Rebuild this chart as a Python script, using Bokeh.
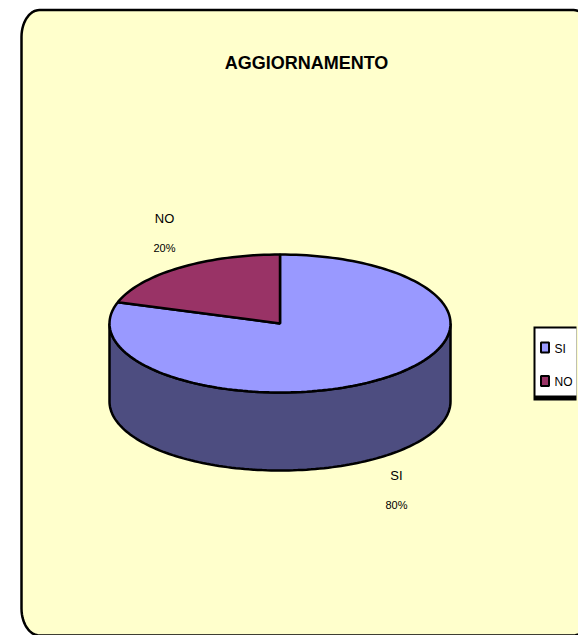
import math
from bokeh.plotting import figure
from bokeh.embed import file_html
from bokeh.resources import INLINE
from bokeh.core.properties import value

title_text = "AGGIORNAMENTO"
categories = ["SI", "NO"]
shares = [80, 20]
colors = ["#9999FF", "#993366"]
side_color = "#4D4D80"
bg = "#FFFFCC"

W, H = 578, 635
p = figure(width=W, height=H, x_range=(0, W), y_range=(H, 0),
           output_backend="svg", toolbar_location=None, min_border=0,
           outline_line_color=None, background_fill_color="white",
           border_fill_color="white")
p.axis.visible = False
p.grid.visible = False

# Rounded panel (elliptical corners, right and bottom edges run off the page)
def arc(cx, cy, a0, a1, rx=18, ry=27, n=14):
    return [(cx + rx * math.cos(math.radians(a0 + (a1 - a0) * i / n)),
             cy + ry * math.sin(math.radians(a0 + (a1 - a0) * i / n))) for i in range(n + 1)]
L, T, R, B = 21, 9.5, 591, 635
pts = (arc(L + 18, T + 27, 180, 270) + arc(R - 18, T + 27, 270, 360)
       + arc(R - 18, B - 27, 0, 90) + arc(L + 18, B - 27, 90, 180))
p.patch([a for a, _ in pts], [b for _, b in pts], fill_color=bg, line_color="black", line_width=2.5)

# Pie geometry
cx, cy, rx, ry, depth = 279.5, 323, 170.5, 69, 78
def ell(t, dy=0):
    return (cx + rx * math.sin(t), cy + dy - ry * math.cos(t))

# Side wall (front half)
ts = [math.pi / 2 + math.pi * i / 120 for i in range(121)]
front = [ell(t) for t in ts] + [ell(t, depth) for t in reversed(ts)]
p.patch([a for a, _ in front], [b for _, b in front], fill_color=side_color,
        line_color="black", line_width=2.5)

# Slices: SI runs clockwise from the top, NO fills the rest
total = sum(shares)
start = 0.0
for name, share, col in zip(categories, shares, colors):
    sweep = 2 * math.pi * share / total
    n = max(8, int(share * 2))
    ring = [ell(start + sweep * i / n) for i in range(n + 1)]
    xs = [cx] + [a for a, _ in ring]
    ys = [cy] + [b for _, b in ring]
    p.patch(xs, ys, fill_color=col, line_color="black", line_width=2.5)
    start += sweep

font = value("Liberation Sans")
def label(x, y, s, size, style="normal"):
    p.text([x], [y], text=[s], text_font=font, text_font_size=size,
           text_font_style=style, text_align="center", text_baseline="middle",
           text_color="black")

label(306, 62, title_text, "18px", "bold")
label(164, 218, categories[1], "13px")
label(164, 247, f"{shares[1]}%", "11px")
label(396, 475, categories[0], "13px")
label(396, 504, f"{shares[0]}%", "11px")

# Legend: white box, black top/left, heavy black base, no right edge
p.quad(left=[533], right=[576], top=[326], bottom=[400], fill_color="black", line_width=0)
p.quad(left=[535], right=[576], top=[328], bottom=[395], fill_color="white", line_width=0)
for y0, name, col in zip((347, 380.5), categories, colors):
    p.quad(left=[540.5], right=[548.5], top=[y0 - 5], bottom=[y0 + 5], fill_color=col, line_color="black", line_width=2)
    p.text([554], [y0 + 1], text=[name], text_font=font, text_font_size="12px", text_align="left",
           text_baseline="middle", text_color="black")

open("out.html", "w").write(file_html(p, INLINE))
